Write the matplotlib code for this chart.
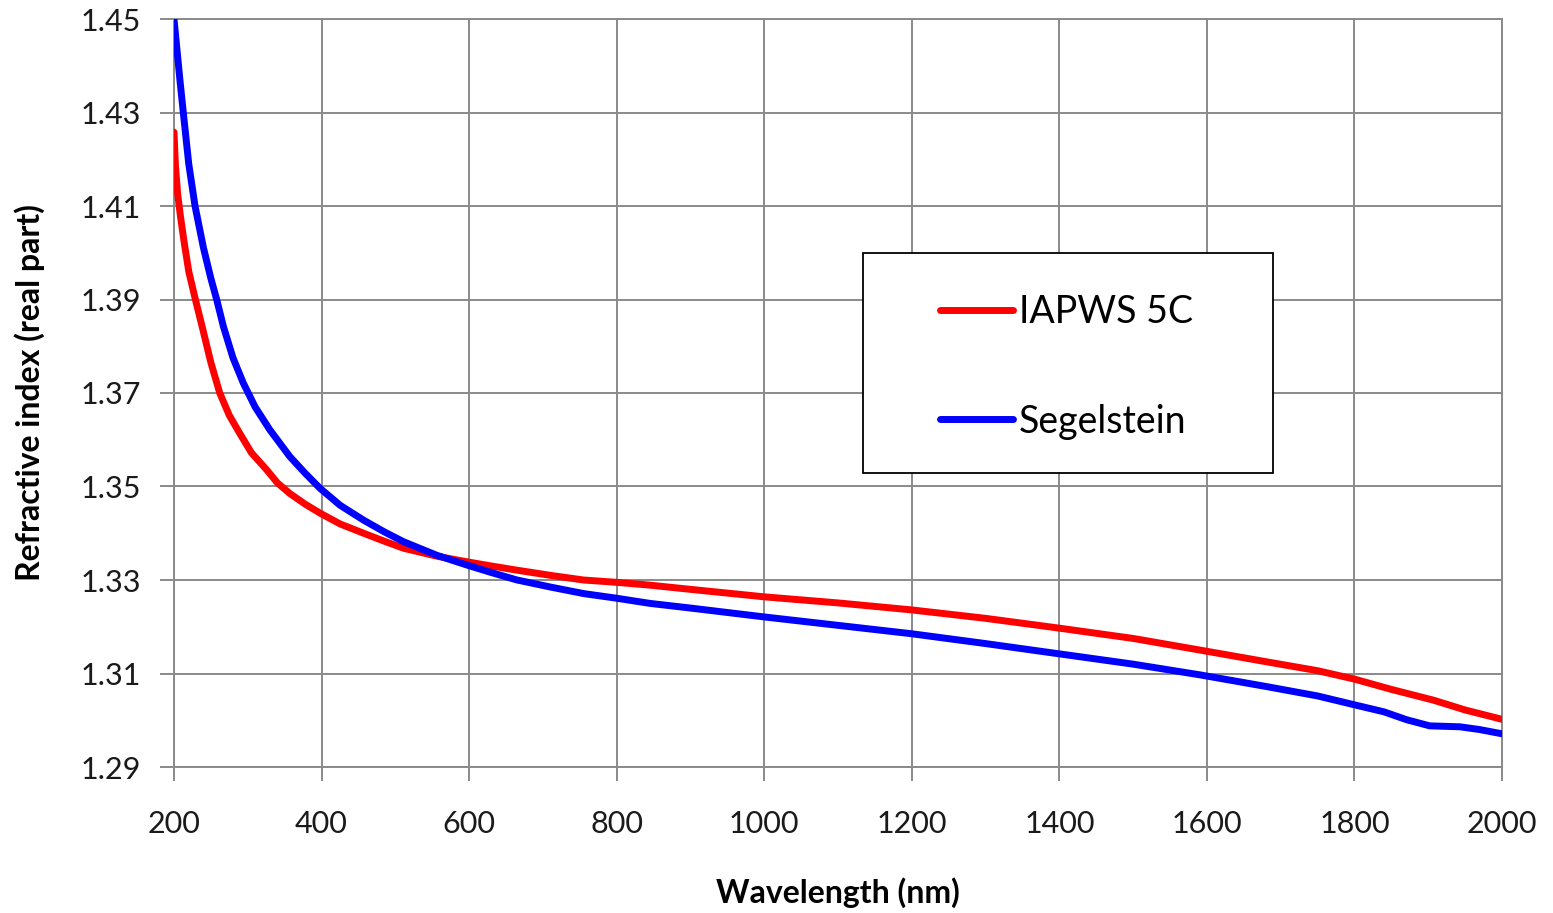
import matplotlib
matplotlib.use("Agg")
import matplotlib.pyplot as plt
from matplotlib.patches import Rectangle

plt.rcParams['font.family'] = ['Lato', 'DejaVu Sans']

# IAPWS at 5 C
iapws_wl = [200, 202, 205, 209, 214, 220, 229, 238, 250, 262, 275, 289, 305, 326, 340,
            357, 378, 398, 425, 457, 485, 511, 556, 597, 630, 665, 710, 755, 800, 845,
            900, 1000, 1100, 1200, 1300, 1400, 1500, 1591, 1681, 1750, 1800, 1850,
            1907, 1950, 2000]
iapws_n = [1.4258, 1.4185, 1.4125, 1.4075, 1.402, 1.396, 1.390, 1.3843, 1.3765, 1.370,
           1.3652, 1.3614, 1.3572, 1.3535, 1.3508, 1.3485, 1.3462, 1.3443, 1.3420,
           1.3400, 1.3383, 1.3368, 1.3351, 1.3339, 1.3330, 1.3321, 1.3310, 1.3300,
           1.3295, 1.3289, 1.3280, 1.3264, 1.3251, 1.3236, 1.3218, 1.3197, 1.3175,
           1.3150, 1.3125, 1.3106, 1.3088, 1.3066, 1.3043, 1.3022, 1.3002]

# Segelstein
seg_wl = [200, 204, 208, 212.6, 220, 228.5, 240, 250, 258, 267, 280, 294, 310, 330, 357,
          378, 398, 425, 457, 485, 511, 556, 597, 630, 665, 710, 755, 800, 845, 900,
          1000, 1100, 1200, 1300, 1400, 1500, 1591, 1681, 1750, 1800, 1840, 1871, 1902,
          1943, 1970, 2000]
seg_n = [1.450, 1.4435, 1.437, 1.430, 1.419, 1.410, 1.401, 1.3945, 1.3899, 1.3842,
         1.3775, 1.3721, 1.3670, 1.3621, 1.3564, 1.3528, 1.3496, 1.3460, 1.3428,
         1.3403, 1.3382, 1.3353, 1.3332, 1.3316, 1.3300, 1.3285, 1.3271, 1.3261,
         1.3250, 1.3240, 1.3221, 1.3203, 1.3185, 1.3164, 1.3142, 1.3120, 1.3097,
         1.3072, 1.3052, 1.3033, 1.3018, 1.3001, 1.2988, 1.2986, 1.2980, 1.2971]

x_ticks = [200, 400, 600, 800, 1000, 1200, 1400, 1600, 1800, 2000]
y_ticks = [1.29, 1.31, 1.33, 1.35, 1.37, 1.39, 1.41, 1.43, 1.45]

W, H = 1553, 913
fig = plt.figure(figsize=(W / 100, H / 100), dpi=100)
ax = fig.add_axes([174 / W, 1 - 767 / H, (1502 - 174) / W, (767 - 19) / H])

grid_c = '#8a8a8a'
ax.plot(iapws_wl, iapws_n, color='#ff0000', lw=5, label='IAPWS 5C',
        solid_capstyle='round', solid_joinstyle='round', zorder=3)
ax.plot(seg_wl, seg_n, color='#0000ff', lw=5, label='Segelstein',
        solid_capstyle='round', solid_joinstyle='round', zorder=3)

ax.set_xlim(200, 2000)
ax.set_ylim(1.29, 1.45)
ax.set_xticks(x_ticks)
ax.set_yticks(y_ticks)
ax.set_yticklabels([f'{v:.2f}' for v in y_ticks])
ax.grid(True, color=grid_c, lw=1.4)
for s in ax.spines.values():
    s.set_color(grid_c)
    s.set_linewidth(1.4)
ax.tick_params(axis='both', direction='out', length=10, width=1.4, color=grid_c,
               labelsize=22, labelcolor='#1a1a1a')
ax.tick_params(axis='y', pad=14)
ax.tick_params(axis='x', pad=21)

ax.set_xlabel('Wavelength (nm)', fontsize=23, fontweight='bold')
ax.set_ylabel('Refractive index (real part)', fontsize=23, fontweight='bold')
ax.xaxis.set_label_coords(0.5, (767 - 893) / 748)
ax.yaxis.set_label_coords((30 - 174) / 1328, 0.5)
ax.xaxis.label.set_va('center')
ax.yaxis.label.set_va('center')

# legend box
ax.add_patch(Rectangle(((863 - 174) / 1328, (767 - 473) / 748), 410 / 1328, 220 / 748,
                       transform=ax.transAxes, facecolor='white', edgecolor='black',
                       lw=1.3, zorder=4))
leg = ax.legend(loc='center left', bbox_to_anchor=((940 - 174) / 1328, (767 - 367) / 748),
                frameon=False, fontsize=27, handlelength=1.95, handletextpad=0.15,
                labelspacing=1.95, borderpad=0, borderaxespad=0)
leg.set_zorder(5)

fig.savefig('out.png', dpi=100, facecolor='white')
